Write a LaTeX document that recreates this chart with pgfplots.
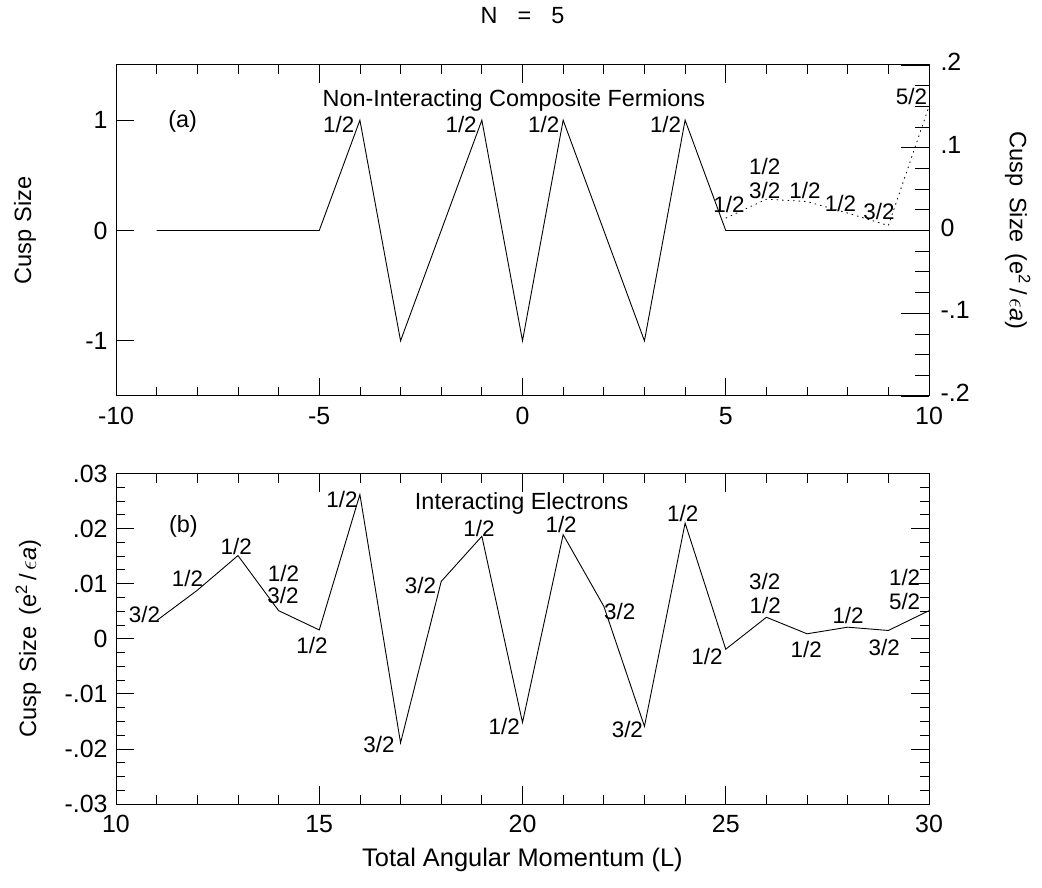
\documentclass[border=0pt]{standalone}
\usepackage{fontspec}
\setmainfont{Liberation Sans}
\usepackage{pgfplots}
\pgfplotsset{compat=1.18}
\pgfplotsset{
  base/.style={
    scale only axis, width=813bp, anchor=south west, clip=false,
    axis line style={black, line width=1bp},
    tick style={black, line width=0.8bp},
    major tick length=18bp, minor tick length=9bp,
    tick align=inside,
    scaled ticks=false,
    ticklabel style={font=\fontsize{25}{30}\selectfont},
    xticklabel style={yshift=-8bp},
  },
}
\tikzset{
  dat/.style={black, line width=0.9bp, no marks},
  ann/.style={font=\fontsize{22.5}{27}\selectfont, inner sep=0pt},
  ttl/.style={font=\fontsize{23.5}{28}\selectfont, inner sep=0pt},
}
\begin{document}
\begin{tikzpicture}
\useasboundingbox (0,0) rectangle (1042bp,888bp);
% ---------------- top panel, left axis ----------------
\begin{axis}[base, at={(116bp,492bp)}, height=331bp,
  xmin=-10, xmax=10, ymin=-1.5, ymax=1.5,
  xtick={-10,-5,0,5,10}, xticklabels={-10,-5,0,5,10}, minor x tick num=4,
  ytick={-1,0,1}, yticklabels={-1,0,1},
  yticklabel style={xshift=-5bp},
  xtick pos=both, ytick pos=left,
  ylabel={Cusp Size},
  every axis y label/.style={at={(axis description cs:-0.112,0.5)}, rotate=90, anchor=center, font=\fontsize{23.7}{28}\selectfont},
  title={N\hspace{20bp}=\hspace{20bp}5},
  title style={font=\fontsize{23.5}{28}\selectfont, at={(0.5,1)}, anchor=center, yshift=43bp},
]
\addplot[dat] coordinates {
(-9,0)(-8,0)(-7,0)(-6,0)(-5,0)(-4,1)(-3,-1)(-2,0)(-1,1)(0,-1)(1,1)(2,0)(3,-1)(4,1)(5,0)(6,0)(7,0)(8,0)(9,0)(10,0)};
\node[ttl] at (axis cs:-8.36,0.99) {(a)};
\node[ttl] at (axis cs:-0.21,1.176) {Non-Interacting Composite Fermions};
\node[ann] at (axis cs:-4.52,0.958) {1/2};
\node[ann] at (axis cs:-1.51,0.958) {1/2};
\node[ann] at (axis cs:0.52,0.958) {1/2};
\node[ann] at (axis cs:3.52,0.958) {1/2};
\end{axis}
% ---------------- top panel, right axis ----------------
\begin{axis}[base, at={(116bp,492bp)}, height=331bp,
  xmin=-10, xmax=10, ymin=-0.2, ymax=0.2,
  axis x line=none, axis y line*=right,
  major tick length=28bp, minor tick length=14bp,
  ytick={-0.2,-0.1,0,0.1,0.2}, yticklabels={-.2,-.1,0,.1,.2}, minor y tick num=3,
  yticklabel style={xshift=8bp, yshift=3bp},
  ylabel={Cusp\hspace{0.45em}Size\hspace{0.45em}(e\textsuperscript{2}\,/\,$\epsilon$\textit{a})},
  every axis y label/.style={at={(axis description cs:1.109,0.5)}, rotate=-90, anchor=center, font=\fontsize{23.7}{28}\selectfont},
]
\addplot[black, line width=0.8bp, no marks, dash pattern=on 1.5bp off 4bp] coordinates {
(5,0.0149)(6,0.0378)(7,0.035)(8,0.021)(9,0.006)(10,0.15)};
\node[ann] at (axis cs:5.08,0.0311) {1/2};
\node[ann] at (axis cs:5.96,0.0772) {1/2};
\node[ann] at (axis cs:5.96,0.0480) {3/2};
\node[ann] at (axis cs:6.95,0.0484) {1/2};
\node[ann] at (axis cs:7.82,0.0323) {1/2};
\node[ann] at (axis cs:8.77,0.0229) {3/2};
\node[ann] at (axis cs:9.57,0.162) {5/2};
\end{axis}
% ---------------- bottom panel ----------------
\begin{axis}[base, at={(116bp,84bp)}, height=330.5bp,
  xmin=10, xmax=30, ymin=-0.03, ymax=0.03,
  xtick={10,15,20,25,30}, xticklabels={10,15,20,25,30}, minor x tick num=4,
  ytick={-0.03,-0.02,-0.01,0,0.01,0.02,0.03}, yticklabels={-.03,-.02,-.01,0,.01,.02,.03}, minor y tick num=3,
  yticklabel style={xshift=-5bp},
  xtick pos=both, ytick pos=both,
  ylabel={Cusp\hspace{0.45em}Size\hspace{0.45em}(e\textsuperscript{2}\,/\,$\epsilon$\textit{a})},
  every axis y label/.style={at={(axis description cs:-0.108,0.5)}, rotate=90, anchor=center, font=\fontsize{23.7}{28}\selectfont},
  xlabel={Total Angular Momentum (L)},
  every axis x label/.style={at={(axis description cs:0.5,0)}, anchor=center, yshift=-56bp, font=\fontsize{25.5}{30}\selectfont},
]
\addplot[dat] coordinates {
(11,0.0033)(12,0.0088)(13,0.0151)(14,0.0051)(15,0.0016)(16,0.0262)(17,-0.0189)(18,0.0104)(19,0.0186)(20,-0.0152)
(21,0.0189)(22,0.0059)(23,-0.0159)(24,0.021)(25,-0.0019)(26,0.0039)(27,0.0009)(28,0.0021)(29,0.0015)(30,0.0051)};
\node[ttl] at (axis cs:11.66,0.0203) {(b)};
\node[ttl] at (axis cs:19.98,0.0246) {Interacting Electrons};
\node[ann] at (axis cs:10.70,0.00435) {3/2};
\node[ann] at (axis cs:11.76,0.0109) {1/2};
\node[ann] at (axis cs:12.96,0.0168) {1/2};
\node[ann] at (axis cs:14.12,0.0119) {1/2};
\node[ann] at (axis cs:14.11,0.0078) {3/2};
\node[ann] at (axis cs:14.82,-0.0013) {1/2};
\node[ann] at (axis cs:15.56,0.0253) {1/2};
\node[ann] at (axis cs:16.47,-0.0192) {3/2};
\node[ann] at (axis cs:17.49,0.0096) {3/2};
\node[ann] at (axis cs:18.93,0.0200) {1/2};
\node[ann] at (axis cs:19.55,-0.0159) {1/2};
\node[ann] at (axis cs:20.95,0.0207) {1/2};
\node[ann] at (axis cs:22.39,0.0050) {3/2};
\node[ann] at (axis cs:22.58,-0.0165) {3/2};
\node[ann] at (axis cs:23.94,0.0228) {1/2};
\node[ann] at (axis cs:24.54,-0.0032) {1/2};
\node[ann] at (axis cs:25.96,0.0104) {3/2};
\node[ann] at (axis cs:25.97,0.0060) {1/2};
\node[ann] at (axis cs:26.98,-0.0020) {1/2};
\node[ann] at (axis cs:28.01,0.0042) {1/2};
\node[ann] at (axis cs:28.90,-0.0015) {3/2};
\node[ann] at (axis cs:29.40,0.0111) {1/2};
\node[ann] at (axis cs:29.40,0.0067) {5/2};
\end{axis}
\end{tikzpicture}
\end{document}
